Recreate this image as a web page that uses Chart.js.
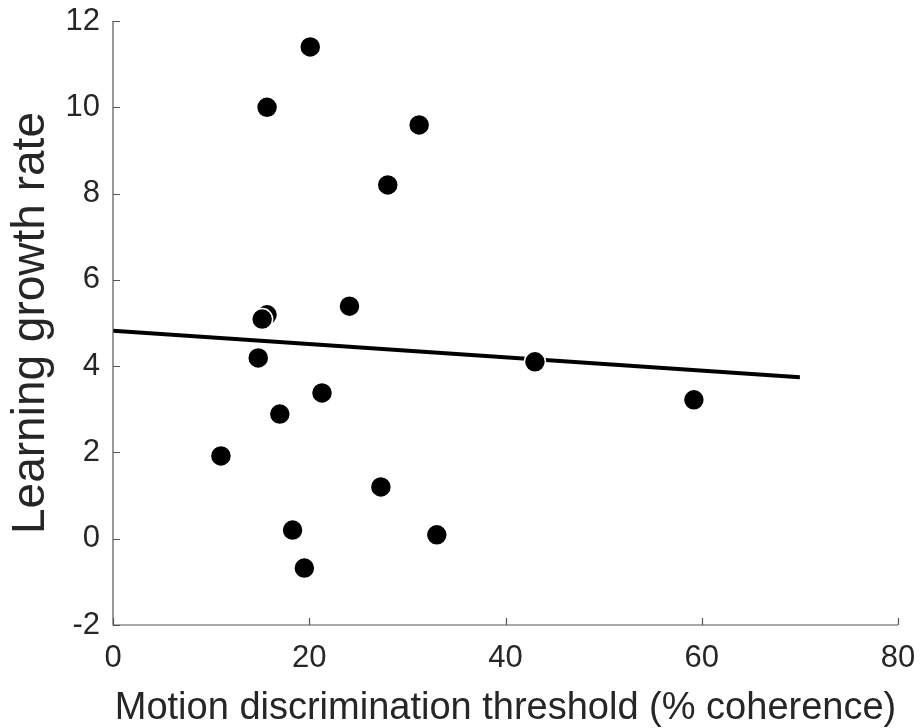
<!DOCTYPE html>
<html>
<head>
<meta charset="utf-8">
<script src="https://cdn.jsdelivr.net/npm/chart.js@4"></script>
<style>
  html, body { margin: 0; padding: 0; background: #fff; }
  #wrap { width: 921px; height: 728px; }
</style>
</head>
<body>
<div id="wrap"><canvas id="chart" width="921" height="728"></canvas></div>
<script>
// threshold (% coherence) vs learning growth rate
const thresholds = [11.0, 14.8, 15.7, 15.2, 15.7, 17.0, 18.3, 19.5, 20.1, 21.3, 24.1, 27.3, 28.0, 31.2, 33.0, 43.0, 59.2];
const growthRates = [1.92, 4.19, 5.19, 5.09, 10.0, 2.89, 0.2, -0.68, 11.4, 3.38, 5.39, 1.2, 8.2, 9.59, 0.09, 4.1, 3.22];

const fitX = [0, 70];
const fitY = [4.82, 3.74];

const xTicks = [0, 20, 40, 60, 80];
const yTicks = [-2, 0, 2, 4, 6, 8, 10, 12];

const font = '"Liberation Sans", Arial, Helvetica, sans-serif';
const ink = '#262626';

const inwardAxes = {
  id: 'inwardAxes',
  afterDraw(chart) {
    const { ctx, chartArea: a, scales: { x, y } } = chart;
    ctx.save();
    ctx.strokeStyle = '#555';
    ctx.lineWidth = 1.2;
    ctx.beginPath();
    ctx.moveTo(a.left, a.top);
    ctx.lineTo(a.left, a.bottom);
    ctx.lineTo(a.right, a.bottom);
    const len = 7;
    yTicks.forEach(v => {
      const py = Math.round(y.getPixelForValue(v)) + 0.5;
      ctx.moveTo(a.left, py);
      ctx.lineTo(a.left + len, py);
    });
    xTicks.forEach(v => {
      const px = Math.round(x.getPixelForValue(v)) + 0.5;
      ctx.moveTo(px, a.bottom);
      ctx.lineTo(px, a.bottom - len);
    });
    ctx.stroke();
    ctx.restore();
  }
};

new Chart(document.getElementById('chart'), {
  data: {
    datasets: [
      {
        type: 'scatter',
        data: thresholds.map((t, i) => ({ x: t, y: growthRates[i] })),
        backgroundColor: '#000',
        borderColor: '#fff',
        borderWidth: 1.5,
        pointRadius: 10.5,
        order: 1,
      },
      {
        type: 'line',
        data: fitX.map((t, i) => ({ x: t, y: fitY[i] })),
        borderColor: '#000',
        borderWidth: 4,
        pointRadius: 0,
        fill: false,
        order: 2,
      },
    ],
  },
  options: {
    responsive: false,
    animation: false,
    layout: { padding: { top: 21, right: 23, left: 0, bottom: 0 } },
    plugins: { legend: { display: false }, tooltip: { enabled: false } },
    scales: {
      x: {
        type: 'linear',
        min: 0,
        max: 80,
        afterBuildTicks: s => { s.ticks = xTicks.map(v => ({ value: v })); },
        afterFit: s => { s.height = 103; s.paddingLeft = 0; s.paddingRight = 0; },
        grid: { display: false, drawTicks: false },
        border: { display: false },
        ticks: { color: ink, font: { family: font, size: 31, lineHeight: 1 }, padding: 18, maxRotation: 0 },
        title: {
          display: true,
          text: 'Motion discrimination threshold (% coherence)',
          color: ink,
          font: { family: font, size: 38, lineHeight: 1 },
          padding: { top: 8, bottom: 0 },
        },
      },
      y: {
        type: 'linear',
        min: -2,
        max: 12,
        afterBuildTicks: s => { s.ticks = yTicks.map(v => ({ value: v })); },
        afterFit: s => { s.width = 113; s.paddingTop = 0; s.paddingBottom = 0; },
        grid: { display: false, drawTicks: false },
        border: { display: false },
        ticks: { color: ink, font: { family: font, size: 31, lineHeight: 1 }, padding: 13 },
        title: {
          display: true,
          text: 'Learning growth rate',
          color: ink,
          font: { family: font, size: 46, lineHeight: 1 },
          padding: { top: 8, bottom: 0 },
        },
      },
    },
  },
  plugins: [inwardAxes],
});
</script>
</body>
</html>
